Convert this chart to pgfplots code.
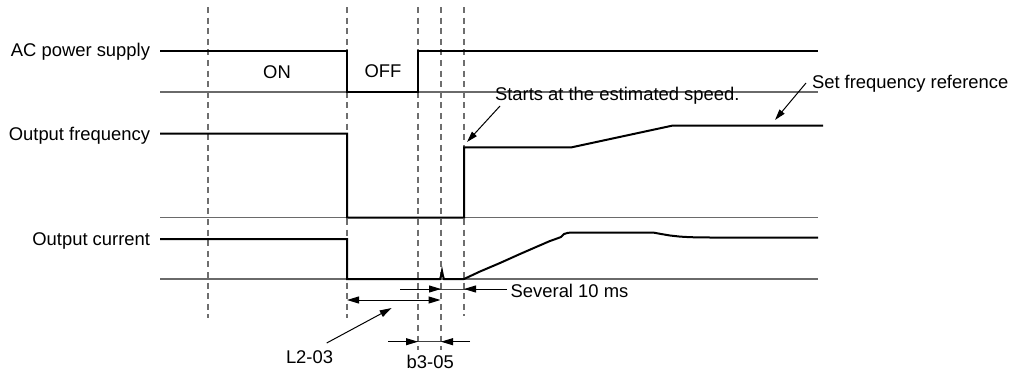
\documentclass[border=0pt]{standalone}
\usepackage{pgfplots}
\pgfplotsset{compat=1.18}
\usetikzlibrary{arrows.meta}
\usepackage{fontspec}
\setmainfont{Liberation Sans}
\definecolor{basegray}{HTML}{6A6A6A}
\definecolor{dashgray}{HTML}{6E6E6E}
\tikzset{lbl/.style={font=\fontsize{9.2}{11}\selectfont, inner sep=0pt, outer sep=0pt}}
\begin{document}
\begin{tikzpicture}
\begin{axis}[
  at={(0,0)}, anchor=south west,
  scale only axis, width=505.5pt, height=185pt,
  xmin=0, xmax=1011, ymin=0, ymax=370, y dir=reverse,
  hide axis, clip=false,
]
% baselines (gray)
\addplot[basegray, line width=0.7pt] coordinates {(160,92)(818,92)};
\addplot[basegray, line width=0.7pt] coordinates {(160,217.7)(818,217.7)};
\addplot[basegray, line width=0.7pt] coordinates {(160,279)(818,279)};
% dashed time markers
\addplot[dashgray, line width=0.75pt, dash pattern=on 3pt off 2.3pt] coordinates {(208,7)(208,318)};
\addplot[dashgray, line width=0.75pt, dash pattern=on 3pt off 2.3pt] coordinates {(347,7)(347,318)};
\addplot[dashgray, line width=0.75pt, dash pattern=on 3pt off 2.3pt] coordinates {(418,7)(418,350)};
\addplot[dashgray, line width=0.75pt, dash pattern=on 3pt off 2.3pt] coordinates {(441,7)(441,350)};
\addplot[dashgray, line width=0.75pt, dash pattern=on 3pt off 2.3pt] coordinates {(464,7)(464,316)};
% AC power supply
\addplot[black, line width=1pt] coordinates {(160,50.5)(347,50.5)(347,92)(418,92)(418,50.5)(818,50.5)};
% Output frequency
\addplot[black, line width=1pt] coordinates {(160,133.7)(347,133.7)(347,217.7)(464,217.7)(464,147.3)(571.7,147.3)(672,125.7)(823,125.7)};
% Output current
\addplot[black, line width=1pt] coordinates {(160,239)(347,239)(347,279)(440,279)(441,276)(442,271)(443,276)(444,279)(464,279)
 (480,271.5)(500,263)(520,254)(540,245.3)(550,241)(557,238.5)(561,237)(564,234)(568,232.8)(574,232.5)(653,232.5)
 (660,233.8)(670,235.5)(680,236.6)(690,237.2)(710,237.5)(818,237.5)};
% Several 10 ms arrows
\addplot[black!75, line width=0.5pt] coordinates {(400,289)(507,289)};
\addplot[black, line width=0.5pt, -{Triangle[length=6pt,width=3.5pt]}] coordinates {(400,289)(441,289)};
\addplot[black, line width=0.5pt, -{Triangle[length=6pt,width=3.5pt]}] coordinates {(507,289)(464,289)};
% L2-03 double arrow
\addplot[black, line width=0.5pt, {Triangle[length=6pt,width=3.5pt]}-{Triangle[length=6pt,width=3.5pt]}] coordinates {(347,300)(440.5,300)};
\addplot[black, line width=0.5pt, -{Triangle[length=6pt,width=3.5pt]}] coordinates {(326.7,343)(391.7,308)};
% b3-05 arrows
\addplot[black!75, line width=0.5pt] coordinates {(388,341.7)(470,341.7)};
\addplot[black, line width=0.5pt, -{Triangle[length=6pt,width=3.5pt]}] coordinates {(388,341.7)(418,341.7)};
\addplot[black, line width=0.5pt, -{Triangle[length=6pt,width=3.5pt]}] coordinates {(470,341.7)(441,341.7)};
% callout arrows
\addplot[black, line width=0.5pt, -{Triangle[length=5.5pt,width=3.2pt]}] coordinates {(500,106)(467,142)};
\addplot[black, line width=0.5pt, -{Triangle[length=5.5pt,width=3.2pt]}] coordinates {(806,83)(775,120)};
% texts
\node[lbl, anchor=base east] at (axis cs:150,56.5) {AC power supply};
\node[lbl, anchor=base east] at (axis cs:150,140) {Output frequency};
\node[lbl, anchor=base east] at (axis cs:150,245) {Output current};
\node[lbl, anchor=base] at (axis cs:277,78.5) {ON};
\node[lbl, anchor=base] at (axis cs:383,77.5) {OFF};
\node[lbl, anchor=base west] at (axis cs:495,100) {Starts at the estimated speed.};
\node[lbl, anchor=base west] at (axis cs:812,88.3) {Set frequency reference};
\node[lbl, anchor=base west] at (axis cs:510.7,297.3) {Several 10 ms};
\node[lbl, anchor=base west] at (axis cs:286,363.3) {L2-03};
\node[lbl, anchor=base west] at (axis cs:406.7,368.3) {b3-05};
\end{axis}
\pgfresetboundingbox
\path (0,0) rectangle (505.5pt,185pt);
\end{tikzpicture}
\end{document}
